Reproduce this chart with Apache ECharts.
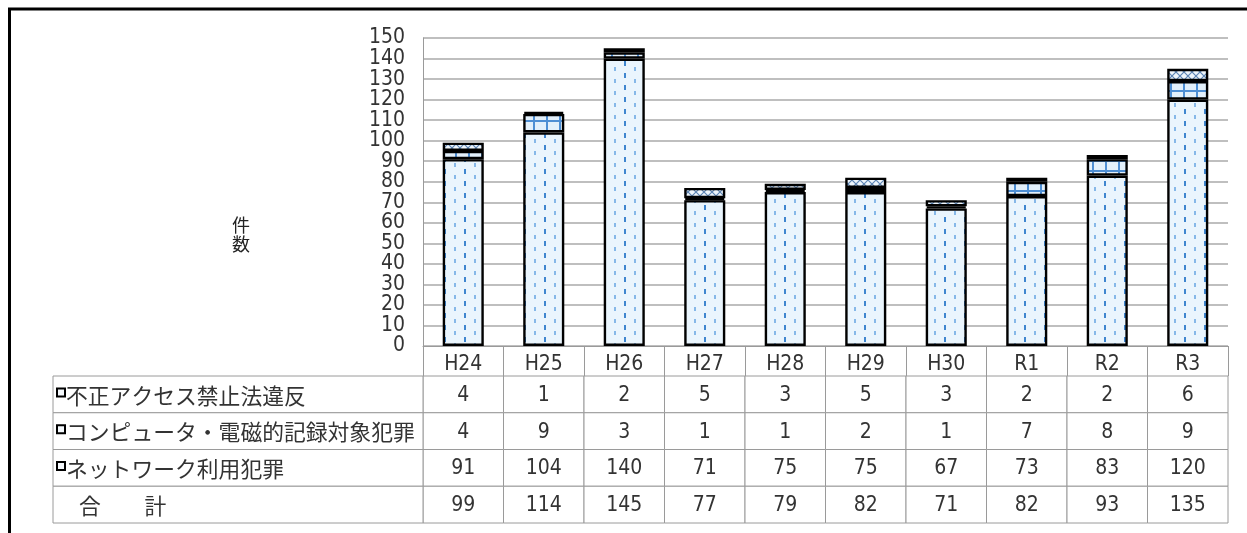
<!DOCTYPE html>
<html>
<head>
<meta charset="utf-8">
<script src="https://cdn.jsdelivr.net/npm/echarts@6/dist/echarts.min.js"></script>
<style>
  html, body { margin: 0; padding: 0; background: #fff; }
  #chart { width: 1247px; height: 533px; }
</style>
</head>
<body>
<div id="chart"></div>
<script>
// Fiscal years (Heisei / Reiwa)
const years = ['H24', 'H25', 'H26', 'H27', 'H28', 'H29', 'H30', 'R1', 'R2', 'R3'];
// Case counts per category
const unauthorizedAccess = [4, 1, 2, 5, 3, 5, 3, 2, 2, 6];
const computerCrime = [4, 9, 3, 1, 1, 2, 1, 7, 8, 9];
const networkCrime = [91, 104, 140, 71, 75, 75, 67, 73, 83, 120];
const totals = [99, 114, 145, 77, 79, 82, 71, 82, 93, 135];
// Table row headings
const rowNames = ['不正アクセス禁止法違反', 'コンピュータ・電磁的記録対象犯罪', 'ネットワーク利用犯罪', '合　　計'];
const axisTitle = '件\n数';
// Value axis range
const yMin = 0, yMax = 150, yStep = 10;

const NUM_FONT = '"Liberation Sans Narrow", "DejaVu Sans Condensed", "Liberation Sans", sans-serif';
const JP_FONT = '"Noto Sans CJK JP", sans-serif';

// ---- fill patterns for the stacked segments ----
function makeTile(w, h, draw) {
  const c = document.createElement('canvas');
  c.width = w; c.height = h;
  const ctx = c.getContext('2d');
  draw(ctx, w, h);
  return { image: c, repeat: 'repeat' };
}
// staggered short vertical dashes
const dashFill = makeTile(20, 12, (ctx, w, h) => {
  ctx.fillStyle = '#eaf5fd'; ctx.fillRect(0, 0, w, h);
  ctx.fillStyle = '#3f86cf'; ctx.fillRect(4, 1, 2, 5);
  ctx.fillStyle = '#86b8e8'; ctx.fillRect(14, 7, 2, 4);
});
// blue grid
const gridFill = makeTile(13, 10, (ctx, w, h) => {
  ctx.fillStyle = '#e3f0fb'; ctx.fillRect(0, 0, w, h);
  ctx.fillStyle = '#4f8fd4';
  ctx.fillRect(0, 0, 2, h);
  ctx.fillRect(0, 0, w, 2);
});
// cross-hatch
const hatchFill = makeTile(8, 8, (ctx, w, h) => {
  ctx.fillStyle = '#eef5fb'; ctx.fillRect(0, 0, w, h);
  ctx.strokeStyle = '#5d84b3'; ctx.lineWidth = 1.2;
  ctx.beginPath();
  ctx.moveTo(0, 0); ctx.lineTo(8, 8);
  ctx.moveTo(8, 0); ctx.lineTo(0, 8);
  ctx.stroke();
});

// ---- table cells ----
const tableRows = [unauthorizedAccess, computerCrime, networkCrime, totals];
const cellData = [];
tableRows.forEach((row, r) => row.forEach((v, c) => cellData.push([c, r, v])));
const headData = rowNames.map((name, r) => [0, r, name]);

function renderCell(params, api) {
  const p = api.coord([api.value(0), api.value(1)]);
  const s = api.size([1, 1]);
  return {
    type: 'group',
    children: [
      { type: 'rect', shape: { x: p[0] - s[0] / 2, y: p[1] - s[1] / 2, width: s[0], height: s[1] },
        style: { fill: '#fff', stroke: '#9a9a9a', lineWidth: 1 } },
      { type: 'text', style: { text: String(api.value(2)), x: p[0], y: p[1] + 1, align: 'center', verticalAlign: 'middle',
        font: '21px ' + NUM_FONT, fill: '#333' } }
    ]
  };
}
function renderHead(params, api) {
  const p = api.coord([0, api.value(1)]);
  const s = api.size([1, 1]);
  const x0 = p[0] - s[0] / 2, y0 = p[1] - s[1] / 2;
  const isTotal = api.value(1) === rowNames.length - 1;
  const kids = [
    { type: 'rect', shape: { x: x0, y: y0, width: s[0], height: s[1] },
      style: { fill: '#fff', stroke: '#9a9a9a', lineWidth: 1 } },
    { type: 'text', style: { text: rowNames[api.value(1)], x: x0 + (isTotal ? 26 : 13), y: p[1] + 1, align: 'left', verticalAlign: 'middle',
      font: '21.8px ' + JP_FONT, fill: '#333' } }
  ];
  if (!isTotal) {
    kids.push({ type: 'rect', shape: { x: x0 + 4, y: p[1] - 6, width: 8, height: 8 },
      style: { fill: '#f4f8fc', stroke: '#000', lineWidth: 2 } });
  }
  return { type: 'group', children: kids };
}

// Tick labels are split over two overlaid axes (even / odd steps) so the
// tightly packed labels are all kept.
function stepLabel(parity) {
  return v => (Math.round(v / yStep) % 2 === parity ? String(v) : '');
}
const yLabelStyle = { margin: 18, fontFamily: NUM_FONT, fontSize: 21, color: '#333',
  showMinLabel: true, showMaxLabel: true, hideOverlap: false };

const chart = echarts.init(document.getElementById('chart'), null, { renderer: 'canvas' });
const barBorder = { borderColor: '#000', borderWidth: 2.4 };

chart.setOption({
  animation: false,
  backgroundColor: '#fff',
  grid: [
    { left: 423, right: 19, top: 38, bottom: 187 },
    { left: 423, right: 19, top: 376, height: 147 },
    { left: 53, width: 370, top: 376, height: 147 }
  ],
  xAxis: [
    { type: 'category', data: years, gridIndex: 0,
      axisLine: { show: true, lineStyle: { color: '#9a9a9a', width: 1 } },
      axisTick: { show: true, length: 30, lineStyle: { color: '#9a9a9a', width: 1 } },
      axisLabel: { margin: 8, fontFamily: NUM_FONT, fontSize: 21, color: '#333' } },
    { type: 'category', data: years, gridIndex: 1, show: false },
    { type: 'category', data: [''], gridIndex: 2, show: false }
  ],
  yAxis: [
    { type: 'value', gridIndex: 0, min: yMin, max: yMax, interval: yStep,
      axisLine: { show: true, lineStyle: { color: '#9a9a9a', width: 1 } },
      axisTick: { show: false },
      splitLine: { lineStyle: { color: '#aaaaaa', width: 1.5 } },
      axisLabel: Object.assign({ formatter: stepLabel(0) }, yLabelStyle) },
    { type: 'category', data: rowNames, gridIndex: 1, inverse: true, show: false },
    { type: 'category', data: rowNames, gridIndex: 2, inverse: true, show: false },
    { type: 'value', gridIndex: 0, position: 'left', min: yMin, max: yMax, interval: yStep,
      axisLine: { show: false }, axisTick: { show: false }, splitLine: { show: false },
      axisLabel: Object.assign({ formatter: stepLabel(1) }, yLabelStyle) }
  ],
  graphic: [
    { type: 'line', shape: { x1: 8, y1: 9, x2: 1247, y2: 9 }, style: { stroke: '#000', lineWidth: 3 } },
    { type: 'line', shape: { x1: 9.5, y1: 8, x2: 9.5, y2: 533 }, style: { stroke: '#000', lineWidth: 3 } },
    { type: 'text', left: 232, top: 216, style: { text: axisTitle, font: '18px ' + JP_FONT, fill: '#222', lineHeight: 19 } }
  ],
  series: [
    { name: rowNames[2], type: 'bar', stack: 'total', data: networkCrime, barWidth: '51%',
      itemStyle: Object.assign({ color: dashFill }, barBorder) },
    { name: rowNames[1], type: 'bar', stack: 'total', data: computerCrime, barWidth: '51%',
      itemStyle: Object.assign({ color: gridFill }, barBorder) },
    { name: rowNames[0], type: 'bar', stack: 'total', data: unauthorizedAccess, barWidth: '51%',
      itemStyle: Object.assign({ color: hatchFill }, barBorder) },
    { type: 'custom', xAxisIndex: 1, yAxisIndex: 1, data: cellData, renderItem: renderCell, silent: true },
    { type: 'custom', xAxisIndex: 2, yAxisIndex: 2, data: headData, renderItem: renderHead, silent: true }
  ]
});
</script>
</body>
</html>
